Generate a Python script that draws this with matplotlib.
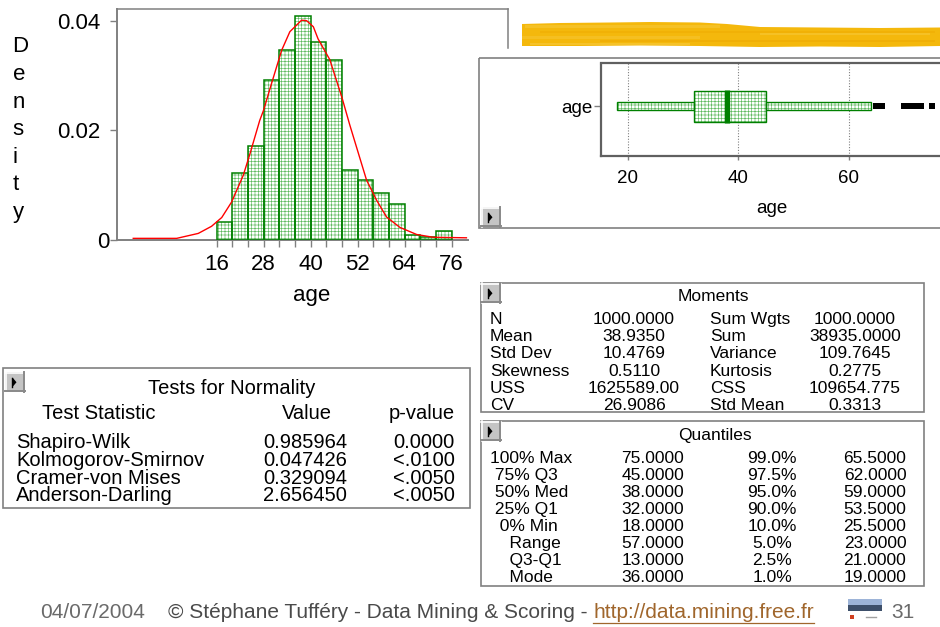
import matplotlib
matplotlib.use("Agg")
import matplotlib.pyplot as plt
from matplotlib.patches import Rectangle, Polygon
from matplotlib.transforms import ScaledTranslation

plt.rcParams['font.family'] = ['Liberation Sans', 'DejaVu Sans']
plt.rcParams['hatch.linewidth'] = 0.45

# ---------------------------------------------------------------- data
# Histogram of age on the density scale, 4-year classes
bin_edges = [16, 20, 24, 28, 32, 36, 40, 44, 48, 52, 56, 60, 64, 68, 72, 76]
bin_density = [0.0032, 0.0122, 0.0172, 0.0291, 0.0346, 0.0409, 0.0362,
               0.0329, 0.0127, 0.0110, 0.0085, 0.0066, 0.0009, 0.0006, 0.0016]

# Kernel density estimate drawn over the histogram
kde_age = [-5.3, 5.8, 11.3, 14.7, 17.3, 19.8, 22.8, 24.5, 27.0, 28.0, 30.0,
           32.6, 34.7, 37.7, 39.0, 40.7, 41.9, 44.9, 48.0, 50.0, 52.0, 54.3,
           56.9, 59.4, 62.8, 67.1, 71.3, 79.8]
kde_density = [0.0003, 0.0003, 0.0012, 0.0025, 0.0041, 0.0069, 0.0118, 0.0157,
               0.0218, 0.0237, 0.0285, 0.0346, 0.0380, 0.0401, 0.0400, 0.0389,
               0.0367, 0.0329, 0.0260, 0.0210, 0.0163, 0.0109, 0.0072, 0.0042,
               0.0023, 0.0010, 0.0005, 0.0004]

hist_xticks = [16, 28, 40, 52, 64, 76]
hist_yticks = [0, 0.02, 0.04]
hist_yticklabels = ['0', '0.02', '0.04']

# Box plot of age
box_q1, box_median, box_q3 = 32, 38, 45
whisker_low, whisker_high = 18, 64
outliers = [65, 66, 70, 71, 72, 73, 75]
box_xticks = [20, 40, 60]

# Moments table
moment_names_1 = ['N', 'Mean', 'Std Dev', 'Skewness', 'USS', 'CV']
moment_values_1 = ['1000.0000', '38.9350', '10.4769', '0.5110', '1625589.00', '26.9086']
moment_names_2 = ['Sum Wgts', 'Sum', 'Variance', 'Kurtosis', 'CSS', 'Std Mean']
moment_values_2 = ['1000.0000', '38935.0000', '109.7645', '0.2775', '109654.775', '0.3313']

# Quantiles table
quantile_names = ['100% Max', ' 75% Q3', ' 50% Med', ' 25% Q1', '  0% Min',
                  '    Range', '    Q3-Q1', '    Mode']
quantile_values = ['75.0000', '45.0000', '38.0000', '32.0000', '18.0000',
                   '57.0000', '13.0000', '36.0000']
percentile_names = ['99.0%', '97.5%', '95.0%', '90.0%', '10.0%', '5.0%', '2.5%', '1.0%']
percentile_values = ['65.5000', '62.0000', '59.0000', '53.5000', '25.5000',
                     '23.0000', '21.0000', '19.0000']

# Tests for normality
normality_tests = ['Shapiro-Wilk', 'Kolmogorov-Smirnov', 'Cramer-von Mises', 'Anderson-Darling']
normality_values = ['0.985964', '0.047426', '0.329094', '2.656450']
normality_pvalues = ['0.0000', '<.0100', '<.0050', '<.0050']

footer_date = '04/07/2004'
footer_text = '\u00a9 St\u00e9phane Tuff\u00e9ry - Data Mining & Scoring - '
footer_link = 'http://data.mining.free.fr'
footer_page = '31'

# ---------------------------------------------------------------- layout
W, H = 940, 627
GRAY = '#808080'
GREEN = '#008000'
HATCH_GREEN = '#5cb85c'

fig = plt.figure(figsize=(W / 100, H / 100), dpi=100)
fig.patch.set_facecolor('white')

# pixel-space layer for panels, tables and the footer
ov = fig.add_axes([0, 0, 1, 1])
ov.set_xlim(0, W)
ov.set_ylim(H, 0)
ov.axis('off')


def px_axes(x0, y0, x1, y1):
    a = fig.add_axes([x0 / W, 1 - y1 / H, (x1 - x0) / W, (y1 - y0) / H])
    a.set_zorder(2)
    a.patch.set_alpha(0)
    return a


def row_text(x, y_mid, s, size, ha='left', **kw):
    """Place text so that its capital letters are centred on y_mid (pixels)."""
    cap = 0.716 * size * 100 / 72
    return ov.text(x, y_mid + cap / 2, s, fontsize=size, ha=ha, va='baseline', **kw)


def button(x, y, s=20):
    ov.add_patch(Rectangle((x, y), s, s, facecolor='#c4c4c4', edgecolor='none'))
    ov.plot([x, x + s], [y + 0.7, y + 0.7], color='white', lw=1.2)
    ov.plot([x + 0.7, x + 0.7], [y, y + s], color='white', lw=1.2)
    ov.plot([x, x + s], [y + s - 0.7, y + s - 0.7], color='#8a8a8a', lw=1.4)
    ov.plot([x + s - 0.7, x + s - 0.7], [y, y + s], color='#8a8a8a', lw=1.4)
    ov.plot([x + 7.2, x + 7.2], [y + 5.5, y + 15], color='black', lw=1.0)
    ov.add_patch(Polygon([(x + 7.5, y + 5.5), (x + 7.5, y + 15), (x + 11.5, y + 10.25)],
                         closed=True, facecolor='black', edgecolor='none'))


# ---------------------------------------------------------------- banner
banner = [(522, 24), (560, 23), (610, 22.5), (650, 22), (700, 22.5), (727, 24),
          (760, 27), (820, 27.5), (880, 28), (940, 27.5), (940, 46), (880, 47),
          (820, 46.5), (760, 47), (700, 46), (640, 45.5), (580, 46), (522, 46)]
ov.add_patch(Polygon(banner, closed=True, facecolor='#f4b80c', edgecolor='none'))
for y0, y1, c, x0, x1 in [(25, 28, '#f7cc45', 525, 720), (31, 33, '#eeaa00', 540, 935),
                          (36, 38.5, '#f7c93c', 522, 700), (40, 42, '#eda600', 600, 935),
                          (43, 45, '#f7cf50', 530, 690), (33, 35, '#f7cc45', 760, 930)]:
    ov.add_patch(Rectangle((x0, y0), x1 - x0, y1 - y0, facecolor=c, edgecolor='none', alpha=0.45))

# ---------------------------------------------------------------- histogram
ax = px_axes(117, 9, 468, 240)
ax.set_xlim(-9.45, 80.2)
ax.set_ylim(0, 0.04214)
widths = [b - a for a, b in zip(bin_edges[:-1], bin_edges[1:])]
ax.bar(bin_edges[:-1], bin_density, width=widths, align='edge', facecolor='white',
       edgecolor=HATCH_GREEN, hatch='+++++', linewidth=0, zorder=2)
ax.bar(bin_edges[:-1], bin_density, width=widths, align='edge', facecolor='none',
       edgecolor=GREEN, linewidth=1.1, zorder=3)
ax.plot(kde_age, kde_density, color='#ff0000', lw=1.0, zorder=4)

for s in ('top', 'right'):
    ax.spines[s].set_visible(False)
for s in ('left', 'bottom'):
    ax.spines[s].set_color(GRAY)
    ax.spines[s].set_linewidth(1.4)
ax.set_xticks(hist_xticks)
ax.set_xticks(bin_edges, minor=True)
ax.tick_params(axis='x', which='both', direction='out', length=5, width=1, color=GRAY)
ax.tick_params(axis='x', which='major', labelsize=16, pad=5)
ax.set_yticks(hist_yticks, hist_yticklabels)
ax.tick_params(axis='y', direction='out', length=5, width=1, color=GRAY, labelsize=16, pad=7)
# the zero label sits right against its tick
zero_label = ax.yaxis.get_major_ticks()[0].label1
zero_label.set_transform(zero_label.get_transform() + ScaledTranslation(0.09, 0, fig.dpi_scale_trans))
ov.plot([117, 508], [9, 9], color=GRAY, lw=1.1)
ov.plot([508, 508], [9, 48], color=GRAY, lw=1.1)
ov.text(312, 296, 'age', fontsize=16, ha='center', va='center')
for i, ch in enumerate('Density'):
    ov.text(12.5, 47 + i * 27.6, ch, fontsize=16, ha='left', va='center')

# ---------------------------------------------------------------- box plot panel
ov.add_patch(Rectangle((479, 58), 480, 170, fill=False, edgecolor=GRAY, lw=1.2))
button(481, 207)
bx = px_axes(601, 63, 958.5, 156)
bx.set_xlim(15.17, 79.87)
bx.set_ylim(-1.6, 1.4)
for s in bx.spines.values():
    s.set_linestyle((0, (1, 1)))
    s.set_color('#606060')
    s.set_linewidth(1.6)
for v in box_xticks:
    bx.axvline(v, color=GRAY, ls=(0, (1, 1.5)), lw=0.8, zorder=1)
for x0, x1, hh in [(whisker_low, box_q1, 0.13), (box_q3, whisker_high, 0.13), (box_q1, box_q3, 0.5)]:
    bx.add_patch(Rectangle((x0, -hh), x1 - x0, 2 * hh, facecolor='white', edgecolor=HATCH_GREEN,
                           hatch='+++++', lw=0, zorder=2))
    bx.add_patch(Rectangle((x0, -hh), x1 - x0, 2 * hh, facecolor='none', edgecolor=GREEN,
                           lw=1.0, zorder=3))
bx.plot([box_median, box_median], [-0.53, 0.53], color=GREEN, lw=3.8, solid_capstyle='butt', zorder=4)
bx.plot(outliers, [0] * len(outliers), ls='none', marker='s', ms=3.8, mew=0, color='black', zorder=4)
bx.set_xticks(box_xticks)
bx.tick_params(axis='x', length=3, width=1, color=GRAY, labelsize=13.5, pad=7)
bx.set_yticks([0], ['age'])
bx.tick_params(axis='y', length=5, width=1, color=GRAY, labelsize=13.5, pad=1)
row_text(772, 206, 'age', 13.5, ha='center')

# ---------------------------------------------------------------- moments
ov.add_patch(Rectangle((481, 283), 443, 129, fill=False, edgecolor=GRAY, lw=1.2))
button(481, 283)
row_text(713, 295, 'Moments', 12.5, ha='center')
for i in range(len(moment_names_1)):
    y = 318 + i * 17.1
    row_text(490, y, moment_names_1[i], 12.5)
    row_text(634, y, moment_values_1[i], 12.5, ha='center')
    row_text(710, y, moment_names_2[i], 12.5)
    row_text(855, y, moment_values_2[i], 12.5, ha='center')

# ---------------------------------------------------------------- quantiles
ov.add_patch(Rectangle((481, 421), 443, 165, fill=False, edgecolor=GRAY, lw=1.2))
button(481, 421)
row_text(715, 434, 'Quantiles', 12.5, ha='center')
for i in range(len(quantile_names)):
    y = 457 + i * 17.0
    row_text(490, y, quantile_names[i], 12.5)
    row_text(653, y, quantile_values[i], 12.5, ha='center')
    row_text(772, y, percentile_names[i], 12.5, ha='center')
    row_text(875, y, percentile_values[i], 12.5, ha='center')

# ---------------------------------------------------------------- normality tests
ov.add_patch(Rectangle((3, 368), 467, 140, fill=False, edgecolor=GRAY, lw=1.2))
button(5, 372)
row_text(232, 387, 'Tests for Normality', 14.5, ha='center')
row_text(42, 412, 'Test Statistic', 14.5)
row_text(332, 412, 'Value', 14.5, ha='right')
row_text(455, 412, 'p-value', 14.5, ha='right')
for i in range(len(normality_tests)):
    y = 441 + i * 17.7
    row_text(16, y, normality_tests[i], 14.5)
    row_text(347, y, normality_values[i], 14.5, ha='right')
    row_text(455, y, normality_pvalues[i], 14.5, ha='right')

# ---------------------------------------------------------------- footer
FOOT = 15
row_text(40, 611, footer_date, FOOT, color='#6a6a6a')
t1 = row_text(168, 611, footer_text, FOOT, color='#4a4a4a')
fig.canvas.draw()
link_x = ov.transData.inverted().transform((t1.get_window_extent().x1, 0))[0]
t2 = row_text(link_x, 611, footer_link, FOOT, color='#a0662c')
fig.canvas.draw()
bb2 = t2.get_window_extent()
ov.plot([bb2.x0, bb2.x1], [H - bb2.y0 + 0.5, H - bb2.y0 + 0.5], color='#a0662c', lw=0.9)
row_text(903, 611, footer_page, FOOT, ha='center', color='#6a6a6a')
# small slide thumbnail
ov.add_patch(Rectangle((848, 599), 34, 6, facecolor='#9db4d8', edgecolor='none'))
ov.add_patch(Rectangle((848, 605), 34, 6, facecolor='#3d4f6a', edgecolor='none'))
ov.add_patch(Rectangle((850, 615), 4, 4, facecolor='#d04020', edgecolor='none'))
ov.plot([866, 876], [617, 617], color='#a0a0a0', lw=1)

fig.savefig('out.png', dpi=100)
